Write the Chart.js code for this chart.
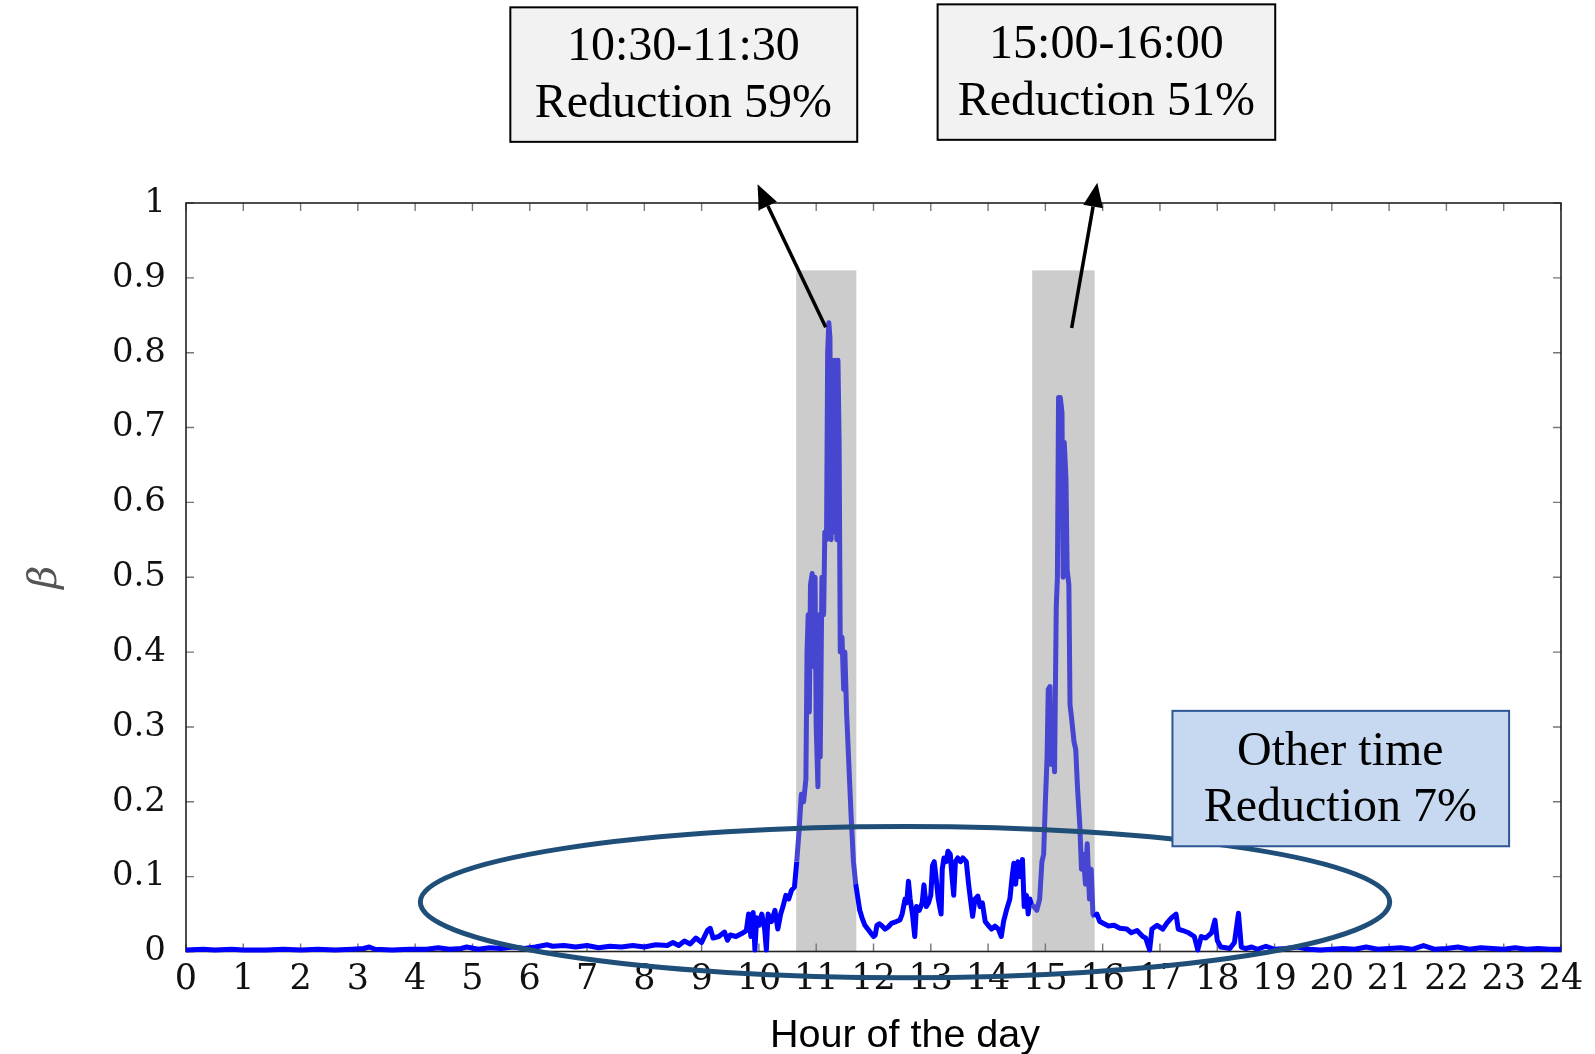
<!DOCTYPE html>
<html>
<head>
<meta charset="utf-8">
<script src="https://cdn.jsdelivr.net/npm/chart.js@4.4.1/dist/chart.umd.min.js"></script>
<style>
  html, body { margin: 0; padding: 0; background: #fff; }
  #wrap { width: 1595px; height: 1054px; }
</style>
</head>
<body>
<div id="wrap"><canvas id="betaChart"></canvas></div>
<script>
// hour of the day (x) and beta (y)
const hours = [
  0, 0.3, 0.5, 0.8, 1.0, 1.4, 1.7, 2.0, 2.3, 2.6,
  2.9, 3.1, 3.2, 3.3, 3.6, 3.9, 4.2, 4.4, 4.6, 4.8,
  4.9, 5.1, 5.3, 5.5, 5.7, 5.9, 6.1, 6.3, 6.4, 6.6,
  6.8, 7.0, 7.2, 7.4, 7.6, 7.8, 8.0, 8.2, 8.4, 8.5,
  8.6, 8.7, 8.8, 8.9, 9.0, 9.1, 9.15, 9.2, 9.3, 9.4,
  9.45, 9.5, 9.6, 9.7, 9.78, 9.82, 9.86, 9.9, 9.93, 9.96,
  10.0, 10.05, 10.1, 10.13, 10.16, 10.22, 10.28, 10.33, 10.38, 10.42,
  10.47, 10.52, 10.57, 10.62, 10.66, 10.7, 10.74, 10.78, 10.82, 10.84,
  10.86, 10.88, 10.9, 10.93, 10.96, 10.98, 11.0, 11.03, 11.05, 11.07,
  11.1, 11.13, 11.15, 11.18, 11.2, 11.22, 11.24, 11.26, 11.28, 11.3,
  11.33, 11.36, 11.38, 11.4, 11.42, 11.45, 11.48, 11.5, 11.53, 11.57,
  11.61, 11.65, 11.69, 11.72, 11.76, 11.8, 11.85, 11.9, 11.95, 12.0,
  12.03, 12.06, 12.1, 12.15, 12.2, 12.26, 12.32, 12.4, 12.46, 12.5,
  12.55, 12.58, 12.61, 12.64, 12.68, 12.72, 12.75, 12.8, 12.85, 12.88,
  12.92, 12.96, 13.0, 13.03, 13.06, 13.09, 13.13, 13.18, 13.2, 13.23,
  13.27, 13.3, 13.34, 13.37, 13.4, 13.43, 13.47, 13.52, 13.56, 13.62,
  13.66, 13.7, 13.73, 13.77, 13.82, 13.86, 13.9, 13.95, 14.0, 14.06,
  14.12, 14.18, 14.23, 14.27, 14.32, 14.38, 14.42, 14.45, 14.48, 14.52,
  14.56, 14.6, 14.63, 14.67, 14.7, 14.73, 14.76, 14.8, 14.85, 14.9,
  14.94, 14.97, 15.0, 15.03, 15.05, 15.08, 15.1, 15.13, 15.16, 15.19,
  15.21, 15.23, 15.26, 15.29, 15.31, 15.33, 15.36, 15.38, 15.41, 15.43,
  15.46, 15.5, 15.53, 15.56, 15.6, 15.63, 15.66, 15.7, 15.73, 15.77,
  15.8, 15.83, 15.86, 15.9, 15.95, 16.0, 16.1, 16.2, 16.3, 16.42,
  16.5, 16.6, 16.7, 16.75, 16.82, 16.86, 16.95, 17.05, 17.12, 17.2,
  17.28, 17.32, 17.4, 17.5, 17.6, 17.66, 17.72, 17.8, 17.9, 17.96,
  18.0, 18.06, 18.15, 18.22, 18.3, 18.37, 18.42, 18.5, 18.6, 18.7,
  18.85, 19.0, 19.2, 19.4, 19.6, 19.8, 20.0, 20.2, 20.4, 20.6,
  20.8, 21.0, 21.2, 21.4, 21.6, 21.8, 22.0, 22.2, 22.4, 22.6,
  22.8, 23.0, 23.2, 23.4, 23.6, 23.8, 24.0
];
const beta = [
  0.002, 0.003, 0.002, 0.003, 0.002, 0.002, 0.003, 0.002, 0.003, 0.002,
  0.003, 0.004, 0.006, 0.003, 0.002, 0.003, 0.003, 0.005, 0.003, 0.004,
  0.006, 0.003, 0.005, 0.004, 0.006, 0.004, 0.006, 0.009, 0.007, 0.008,
  0.006, 0.008, 0.005, 0.007, 0.006, 0.008, 0.006, 0.009, 0.008, 0.012,
  0.008, 0.014, 0.010, 0.018, 0.012, 0.028, 0.031, 0.018, 0.020, 0.026,
  0.015, 0.022, 0.020, 0.024, 0.028, 0.050, 0.020, 0.052, 0.002, 0.045,
  0.035, 0.050, 0.030, 0.002, 0.050, 0.040, 0.055, 0.030, 0.050, 0.060,
  0.075, 0.070, 0.082, 0.086, 0.12, 0.16, 0.21, 0.20, 0.23, 0.40,
  0.45, 0.32, 0.49, 0.505, 0.38, 0.50, 0.30, 0.22, 0.45, 0.26,
  0.50, 0.45, 0.56, 0.55, 0.80, 0.84, 0.82, 0.55, 0.79, 0.56,
  0.79, 0.55, 0.79, 0.68, 0.40, 0.42, 0.35, 0.40, 0.32, 0.25,
  0.18, 0.12, 0.09, 0.075, 0.055, 0.045, 0.035, 0.030, 0.025, 0.020,
  0.022, 0.035, 0.037, 0.034, 0.030, 0.033, 0.038, 0.040, 0.042, 0.050,
  0.070, 0.065, 0.094, 0.070, 0.050, 0.020, 0.060, 0.055, 0.065, 0.089,
  0.060, 0.065, 0.075, 0.115, 0.120, 0.100, 0.070, 0.050, 0.110, 0.125,
  0.120, 0.134, 0.130, 0.100, 0.075, 0.120, 0.125, 0.120, 0.125, 0.120,
  0.090, 0.065, 0.047, 0.070, 0.074, 0.060, 0.065, 0.040, 0.035, 0.030,
  0.034, 0.030, 0.020, 0.040, 0.055, 0.070, 0.100, 0.118, 0.090, 0.120,
  0.100, 0.123, 0.060, 0.075, 0.050, 0.070, 0.062, 0.060, 0.055, 0.070,
  0.120, 0.130, 0.200, 0.260, 0.350, 0.354, 0.250, 0.300, 0.240, 0.460,
  0.500, 0.740, 0.740, 0.720, 0.500, 0.680, 0.630, 0.510, 0.490, 0.330,
  0.310, 0.280, 0.270, 0.220, 0.170, 0.110, 0.130, 0.090, 0.144, 0.070,
  0.110, 0.050, 0.046, 0.050, 0.040, 0.038, 0.034, 0.035, 0.031, 0.030,
  0.025, 0.028, 0.020, 0.018, 0.002, 0.030, 0.035, 0.030, 0.038, 0.045,
  0.050, 0.030, 0.028, 0.025, 0.020, 0.002, 0.020, 0.018, 0.025, 0.042,
  0.015, 0.006, 0.005, 0.004, 0.012, 0.051, 0.006, 0.004, 0.006, 0.003,
  0.007, 0.003, 0.004, 0.006, 0.003, 0.002, 0.003, 0.004, 0.003, 0.006,
  0.003, 0.004, 0.005, 0.003, 0.008, 0.003, 0.004, 0.006, 0.003, 0.005,
  0.004, 0.003, 0.005, 0.003, 0.004, 0.003, 0.003
];

const xTicks = [0, 1, 2, 3, 4, 5, 6, 7, 8, 9, 10, 11, 12, 13, 14, 15, 16, 17, 18, 19, 20, 21, 22, 23, 24];
const yTicks = [0, 0.1, 0.2, 0.3, 0.4, 0.5, 0.6, 0.7, 0.8, 0.9, 1];
const yTickLabels = ['0', '0.1', '0.2', '0.3', '0.4', '0.5', '0.6', '0.7', '0.8', '0.9', '1'];

// shaded peak windows (hours) and their height
const peakBands = [[10.65, 11.70], [14.77, 15.86]];
const bandTop = 0.91;

const noteTexts = [
  ['10:30-11:30', 'Reduction 59%'],
  ['15:00-16:00', 'Reduction 51%'],
  ['Other time', 'Reduction 7%']
];

const inBand = h => peakBands.some(([a, b]) => h >= a && h <= b);

const ctxEl = document.getElementById('betaChart');

const decorations = {
  id: 'decorations',
  beforeDraw(chart) {
    const c = chart.ctx;
    c.save();
    c.fillStyle = '#ffffff';
    c.fillRect(0, 0, chart.width, chart.height);
    c.restore();
  },
  beforeDatasetsDraw(chart) {
    const c = chart.ctx;
    const a = chart.chartArea;
    const x = chart.scales.x, y = chart.scales.y;
    c.save();
    // grey windows
    c.fillStyle = '#cccccc';
    peakBands.forEach(([h0, h1]) => {
      const l = x.getPixelForValue(h0), r = x.getPixelForValue(h1);
      const t = y.getPixelForValue(bandTop), b = y.getPixelForValue(0);
      c.fillRect(l, t, r - l, b - t);
    });
    // inward ticks on all four sides
    c.strokeStyle = '#777';
    c.lineWidth = 1.4;
    c.beginPath();
    xTicks.forEach(h => {
      const px = x.getPixelForValue(h);
      c.moveTo(px, a.bottom); c.lineTo(px, a.bottom - 8);
      c.moveTo(px, a.top); c.lineTo(px, a.top + 8);
    });
    yTicks.forEach(v => {
      const py = y.getPixelForValue(v);
      c.moveTo(a.left, py); c.lineTo(a.left + 8, py);
      c.moveTo(a.right, py); c.lineTo(a.right - 8, py);
    });
    c.stroke();
    c.strokeStyle = '#222';
    c.lineWidth = 1.6;
    c.strokeRect(a.left, a.top, a.right - a.left, a.bottom - a.top);
    c.restore();
  },
  afterDraw(chart) {
    const c = chart.ctx;
    const a = chart.chartArea;
    const x = chart.scales.x, y = chart.scales.y;
    const px = h => x.getPixelForValue(h);
    const py = v => y.getPixelForValue(v);
    c.save();

    // ellipse round the "other time" part
    c.strokeStyle = '#1f4e79';
    c.lineWidth = 5;
    c.beginPath();
    c.ellipse(px(12.55), py(0.066), px(12.55 + 8.46) - px(12.55), py(0) - py(0.101), 0, 0, Math.PI * 2);
    c.stroke();

    // arrows from the peaks to the boxes
    const arrow = (h0, v0, h1, v1) => {
      const x0 = px(h0), y0 = py(v0), x1 = px(h1), y1 = py(v1);
      const ang = Math.atan2(y1 - y0, x1 - x0);
      const len = 24, half = 10;
      const bx = x1 - len * Math.cos(ang), by = y1 - len * Math.sin(ang);
      c.strokeStyle = '#000';
      c.lineWidth = 3.5;
      c.beginPath();
      c.moveTo(x0, y0); c.lineTo(bx, by);
      c.stroke();
      c.fillStyle = '#000';
      c.beginPath();
      c.moveTo(x1, y1);
      c.lineTo(bx + half * Math.sin(ang), by - half * Math.cos(ang));
      c.lineTo(bx - half * Math.sin(ang), by + half * Math.cos(ang));
      c.closePath();
      c.fill();
    };
    arrow(11.166, 0.834, 9.976, 1.025);
    arrow(15.459, 0.833, 15.906, 1.027);

    // text boxes
    const box = (h0, h1, v0, v1, fill, stroke, lines, hc, vA, vB) => {
      const l = px(h0), r = px(h1), t = py(v0), b = py(v1);
      c.fillStyle = fill;
      c.fillRect(l, t, r - l, b - t);
      c.strokeStyle = stroke;
      c.lineWidth = 2;
      c.strokeRect(l, t, r - l, b - t);
      c.fillStyle = '#000';
      c.font = '48px "Liberation Serif"';
      c.textAlign = 'center';
      c.textBaseline = 'middle';
      c.fillText(lines[0], px(hc), py(vA));
      c.fillText(lines[1], px(hc), py(vB));
    };
    box(5.661, 11.716, 1.2614, 1.0817, '#f2f2f2', '#000', noteTexts[0], 8.681, 1.2079, 1.1317);
    box(13.119, 19.012, 1.2654, 1.0844, '#f2f2f2', '#000', noteTexts[1], 16.065, 1.2106, 1.1343);
    box(17.218, 23.094, 0.3215, 0.1406, '#c6d9f1', '#2f5597', noteTexts[2], 20.148, 0.2658, 0.1909);

    // axis titles
    c.fillStyle = '#000';
    c.font = '39.5px "Liberation Sans"';
    c.textAlign = 'center';
    c.textBaseline = 'alphabetic';
    c.fillText('Hour of the day', px(12.55), 1047);

    c.translate(46, (a.top + a.bottom) / 2);
    c.rotate(-Math.PI / 2);
    c.fillStyle = '#555';
    c.font = 'italic 40px "DejaVu Serif"';
    c.textBaseline = 'middle';
    c.fillText('β', 0, 0);
    c.restore();
  }
};

new Chart(ctxEl, {
  type: 'line',
  data: {
    datasets: [{
      data: hours.map((h, i) => ({ x: h, y: beta[i] })),
      borderColor: '#0000ff',
      borderWidth: 5,
      borderJoinStyle: 'round',
      pointRadius: 0,
      tension: 0,
      fill: false,
      clip: false,
      segment: {
        borderColor: s => inBand((s.p0.parsed.x + s.p1.parsed.x) / 2) ? '#4646d0' : '#0000ff'
      }
    }]
  },
  options: {
    responsive: true,
    maintainAspectRatio: false,
    animation: false,
    devicePixelRatio: 1,
    layout: { padding: { top: 203, right: 34, left: 0, bottom: 0 } },
    plugins: { legend: { display: false }, tooltip: { enabled: false } },
    scales: {
      x: {
        type: 'linear',
        min: 0,
        max: 24,
        grid: { display: false, drawTicks: false },
        border: { display: false },
        afterBuildTicks: s => { s.ticks = xTicks.map(v => ({ value: v })); },
        afterFit: s => { s.height = 102.5; },
        ticks: {
          autoSkip: false,
          maxRotation: 0,
          minRotation: 0,
          padding: 7,
          color: '#111',
          font: { family: 'DejaVu Serif', size: 35 },
          callback: v => String(v)
        }
      },
      y: {
        min: 0,
        max: 1,
        grid: { display: false, drawTicks: false },
        border: { display: false },
        afterBuildTicks: s => { s.ticks = yTicks.map(v => ({ value: v })); },
        afterFit: s => { s.width = 186; },
        ticks: {
          padding: 20,
          color: '#111',
          font: { family: 'DejaVu Serif', size: 34 },
          callback: (v, i) => yTickLabels[i]
        }
      }
    }
  },
  plugins: [decorations]
});
</script>
</body>
</html>
